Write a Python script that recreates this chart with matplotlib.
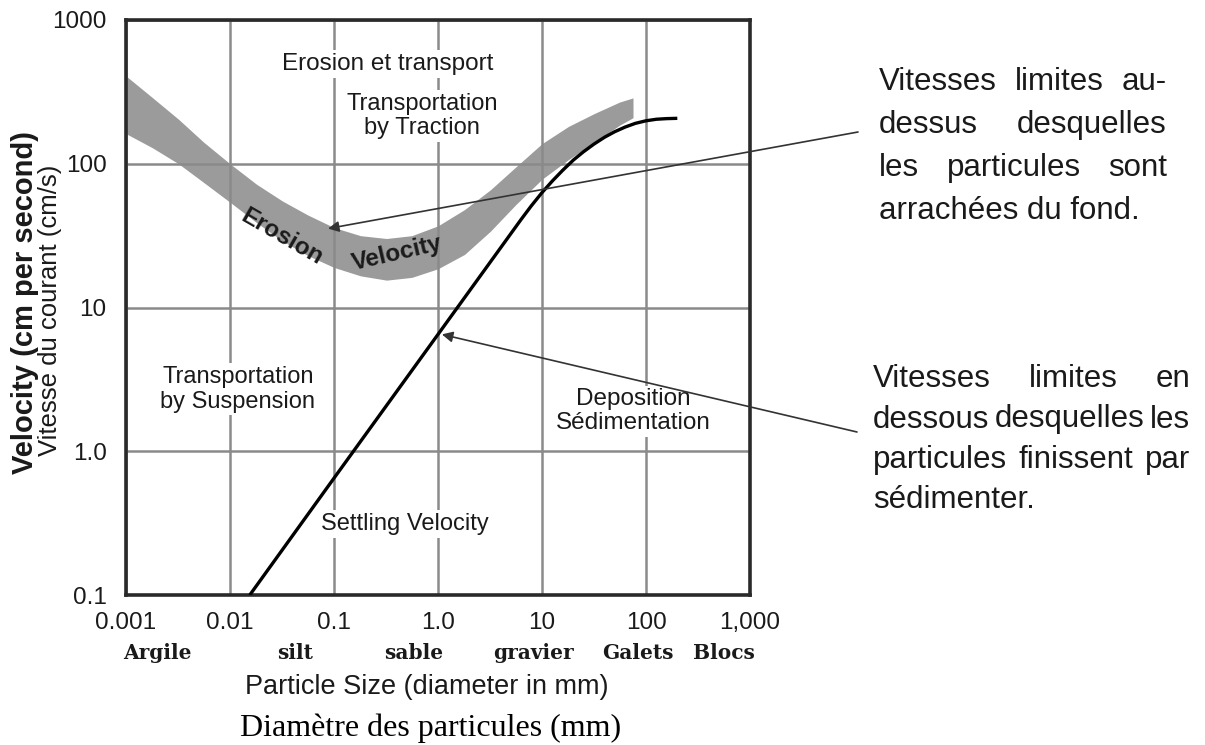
import matplotlib
matplotlib.use("Agg")
import matplotlib.pyplot as plt

# Hjulstrom-type diagram: erosion band and settling velocity curve
size_ticks = [0.001, 0.01, 0.1, 1.0, 10, 100, 1000]
size_labels = ['0.001', '0.01', '0.1', '1.0', '10', '100', '1,000']
vel_ticks = [0.1, 1.0, 10, 100, 1000]
vel_labels = ['0.1', '1.0', '10', '100', '1000']

# erosion velocity band (upper / lower edge, cm/s), read every quarter decade
band_x = [0.001, 0.0018, 0.0032, 0.0056, 0.01, 0.018, 0.032, 0.056, 0.1, 0.18, 0.32,
          0.56, 1.0, 1.8, 3.2, 5.6, 10, 18, 32, 56, 75]
band_upper = [408, 288, 204, 141, 100, 72, 55, 44, 36, 31.6, 30.2,
              31.6, 37, 48, 66, 95, 138, 182, 224, 269, 287]
band_lower = [162, 129, 100, 74, 54, 39, 29, 23, 19, 16.6, 15.5,
              16.2, 18.6, 23.4, 34, 52, 78, 107, 141, 186, 209]

# settling velocity curve
settle_x = [0.0155, 0.1, 1.0, 6.3, 7.9, 10, 12.6, 15.8, 20, 25, 31.6, 40, 50,
            63, 79, 100, 126, 158, 200]
settle_v = [0.1, 0.65, 6.5, 41, 51, 63, 76, 90, 106, 121, 137, 153, 167,
            180, 191, 199, 204, 206, 207]

# grain classes under the x axis
class_names = ['Argile', 'silt', 'sable', 'gravier', 'Galets', 'Blocs']
class_x = [0.002, 0.042, 0.58, 8.2, 84, 562]

note_top = ['Vitesses limites au-', 'dessus desquelles', 'les particules sont', 'arrachées du fond.']
note_bottom = ['Vitesses limites en', 'dessous desquelles les', 'particules finissent par', 'sédimenter.']

W, H = 1205, 745
SANS = ['Liberation Sans', 'DejaVu Sans']
DARK = '#1a1a1a'


def fx(x):
    return x / W


def fy(y):
    return 1 - y / H


fig = plt.figure(figsize=(W / 100, H / 100), dpi=100)
ax = fig.add_axes([fx(126), fy(595), (750 - 126) / W, (595 - 20) / H])
ax.set_xscale('log')
ax.set_yscale('log')
ax.set_xlim(0.001, 1000)
ax.set_ylim(0.1, 1000)

ax.fill_between(band_x, band_lower, band_upper, color='#9b9b9b', lw=0, zorder=1)
ax.plot(settle_x, settle_v, color='black', lw=2.4, solid_capstyle='butt', zorder=3)

ax.set_xticks(size_ticks)
ax.set_xticklabels(size_labels)
ax.set_yticks(vel_ticks)
ax.set_yticklabels(vel_labels)
ax.minorticks_off()
ax.tick_params(length=0, labelsize=17.5, colors=DARK)
ax.tick_params(axis='x', pad=12)
ax.tick_params(axis='y', pad=14)
for lab in ax.get_xticklabels() + ax.get_yticklabels():
    lab.set_family(SANS)
ax.grid(True, color='#8a8a8a', lw=1.8)
ax.set_axisbelow('line')
for sp in ax.spines.values():
    sp.set_linewidth(2.6)
    sp.set_color('#2a2a2a')

box = dict(facecolor='white', edgecolor='none', pad=2)
txt = dict(family=SANS, color=DARK, ha='center', va='center', zorder=4)
ax.text(0.33, 494, 'Erosion et transport', fontsize=17.5, bbox=box, **txt)
ax.text(0.70, 215, 'Transportation\nby Traction', fontsize=17, linespacing=1.15, bbox=box, **txt)
ax.text(0.0119, 2.7, 'Transportation\nby Suspension', fontsize=17, linespacing=1.15, bbox=box, **txt)
ax.text(0.482, 0.311, 'Settling Velocity', fontsize=17, bbox=box, **txt)
ax.text(75, 1.9, 'Deposition\nSédimentation', fontsize=17.5, linespacing=1.1, bbox=box, **txt)
ax.text(0.0316, 31, 'Erosion', fontsize=17.5, rotation=-30, rotation_mode='anchor',
        weight='bold', **txt)
ax.text(0.403, 23.7, 'Velocity', fontsize=17.5, rotation=13, rotation_mode='anchor',
        weight='bold', **txt)

# arrows from the notes to the curves
arrow = dict(arrowstyle='-|>', color='#333333', lw=1.2, mutation_scale=16, shrinkA=0, shrinkB=0)
ax.annotate('', xy=(0.0876, 35.4), xytext=(858, H - 132), textcoords='figure pixels',
            arrowprops=arrow, zorder=5, annotation_clip=False)
ax.annotate('', xy=(1.09, 6.5), xytext=(857, H - 432), textcoords='figure pixels',
            arrowprops=arrow, zorder=5, annotation_clip=False)

# grain class names
for name, x in zip(class_names, class_x):
    ax.text(x, -0.101, name, transform=ax.get_xaxis_transform(), ha='center', va='center',
            fontsize=14.5, family='DejaVu Serif', weight='bold', color=DARK)

fig.text(fx(427), fy(687), 'Particle Size (diameter in mm)', ha='center', va='center',
         fontsize=19.5, family=SANS, color=DARK)
fig.text(fx(431), fy(728), 'Diamètre des particules (mm)', ha='center', va='center',
         fontsize=23, family=['Liberation Serif', 'DejaVu Serif'], color='black')
fig.text(fx(25), fy(302), 'Velocity (cm per second)', rotation=90, ha='center', va='center',
         fontsize=21, family=SANS, weight='bold', color=DARK)
fig.text(fx(50), fy(310), 'Vitesse du courant (cm/s)', rotation=90, ha='center', va='center',
         fontsize=18.5, family=SANS, color=DARK)

renderer = fig.canvas.get_renderer()


def justified(lines, left, right, base0, step, size):
    for i, line in enumerate(lines):
        y = fy(base0 + i * step)
        words = line.split()
        if i == len(lines) - 1 or len(words) == 1:
            fig.text(fx(left), y, line, fontsize=size, family=SANS, color=DARK, va='baseline')
            continue
        parts = [fig.text(0, y, w, fontsize=size, family=SANS, color=DARK, va='baseline')
                 for w in words]
        widths = [p.get_window_extent(renderer).width for p in parts]
        gap = (right - left - sum(widths)) / (len(words) - 1)
        x = left
        for p, w in zip(parts, widths):
            p.set_x(fx(x))
            x += w + gap


justified(note_top, 879, 1167, 90, 43, 22.5)
justified(note_bottom, 873, 1190, 387, 40.5, 22.5)

fig.savefig('out.png', dpi=100)
